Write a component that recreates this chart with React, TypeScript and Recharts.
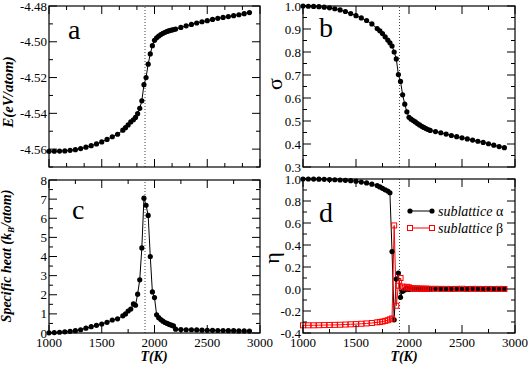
import React from "react"
import { LineChart, Line, XAxis, YAxis, ReferenceLine } from "recharts"

// temperature grid (K)
const temperature = [
  1000, 1050, 1100, 1150, 1200, 1250, 1300, 1350, 1400, 1450, 1500, 1550, 1600, 1650, 1700,
  1725, 1750, 1775, 1800, 1820, 1840, 1860, 1880, 1900, 1920, 1940, 1960, 1980, 2000, 2020,
  2040, 2060, 2080, 2100, 2120, 2140, 2160, 2180, 2200,
  2250, 2300, 2350, 2400, 2450, 2500, 2550, 2600, 2650, 2700, 2750, 2800, 2850, 2900,
]

const energy = [
  -4.5612, -4.5612, -4.5611, -4.561, -4.5607, -4.5603, -4.5597, -4.5589, -4.5581, -4.5571, -4.556, -4.5546, -4.5531, -4.5517, -4.5494,
  -4.548, -4.5465, -4.5448, -4.5436, -4.5423, -4.5402, -4.5372, -4.533, -4.524, -4.52, -4.5125, -4.5068, -4.5022, -4.4992, -4.4978,
  -4.4968, -4.496, -4.4953, -4.4947, -4.4942, -4.4938, -4.4935, -4.4932, -4.4929,
  -4.492, -4.4911, -4.4903, -4.4895, -4.4888, -4.4882, -4.4875, -4.4869, -4.4864, -4.4859, -4.4854, -4.4849, -4.4843, -4.4837,
]

const sigma = [
  1.0, 0.999, 0.998, 0.997, 0.995, 0.992, 0.988, 0.983, 0.976, 0.967, 0.958, 0.948, 0.937, 0.922, 0.902,
  0.892, 0.88, 0.866, 0.852, 0.84, 0.826, 0.8, 0.77, 0.702, 0.672, 0.614, 0.573, 0.54, 0.516, 0.508,
  0.502, 0.496, 0.489, 0.483, 0.477, 0.472, 0.467, 0.463, 0.459,
  0.454, 0.449, 0.443, 0.437, 0.432, 0.427, 0.422, 0.417, 0.412, 0.407, 0.401, 0.395, 0.389, 0.384,
]

const specificHeat = [
  0.01, 0.02, 0.04, 0.06, 0.09, 0.12, 0.17, 0.25, 0.33, 0.4, 0.47, 0.56, 0.68, 0.74, 0.9,
  1.0, 1.15, 1.25, 1.52, 1.45, 2.03, 2.78, 4.45, 7.05, 6.68, 6.15, 4.0, 2.15, 1.85, 0.95,
  0.8, 0.7, 0.62, 0.55, 0.5, 0.45, 0.41, 0.37, 0.2,
  0.18, 0.17, 0.17, 0.16, 0.15, 0.14, 0.14, 0.13, 0.13, 0.12, 0.12, 0.11, 0.11, 0.1,
]

const etaAlpha = [
  1.0, 1.0, 0.999, 0.998, 0.997, 0.995, 0.993, 0.991, 0.988, 0.985, 0.98, 0.972, 0.964, 0.953, 0.94,
  0.928, 0.915, 0.902, 0.89, 0.875, 0.34, -0.28, 0.09, 0.145, -0.076, -0.021, -0.008, 0.006, -0.004, 0.003,
  -0.002, 0.002, 0.0, 0.001, -0.001, 0.001, 0.0, 0.0, 0.001,
  0.002, 0.001, 0.0, 0.001, 0.002, 0.0, 0.001, 0.003, 0.001, 0.0, 0.001, 0.002, 0.0, 0.001,
]

const etaBeta = [
  -0.33, -0.33, -0.33, -0.329, -0.328, -0.327, -0.326, -0.325, -0.323, -0.321, -0.319, -0.316, -0.313, -0.309, -0.303,
  -0.3, -0.296, -0.29, -0.284, -0.276, -0.268, 0.578, -0.152, 0.03, 0.1, 0.022, 0.012, 0.02, 0.015, 0.008,
  0.006, 0.004, 0.006, 0.003, 0.004, 0.002, 0.003, 0.002, 0.001,
  0.002, 0.001, 0.001, 0.0, 0.001, 0.002, 0.0, 0.001, 0.001, 0.0, 0.001, 0.0, 0.001, 0.0,
]

const data = temperature.map((t, i) => ({
  t,
  e: energy[i],
  sigma: sigma[i],
  cv: specificHeat[i],
  alpha: etaAlpha[i],
  beta: etaBeta[i],
}))

// ticks
const xMajor = [1000, 1500, 2000, 2500, 3000]
const xMinorThirds = [1000 + 500 / 3, 1000 + 1000 / 3, 1500 + 500 / 3, 1500 + 1000 / 3, 2000 + 500 / 3, 2000 + 1000 / 3, 2500 + 500 / 3, 2500 + 1000 / 3]
const xMinorHalves = [1250, 1750, 2250, 2750]
const energyLabels = ["-4.56", "-4.54", "-4.52", "-4.50", "-4.48"]
const energyMinor = [-4.57, -4.55, -4.53, -4.51, -4.49]
const sigmaLabels = ["0.3", "0.4", "0.5", "0.6", "0.7", "0.8", "0.9", "1.0"]
const sigmaMinor = [0.35, 0.45, 0.55, 0.65, 0.75, 0.85, 0.95]
const heatLabels = ["0", "1", "2", "3", "4", "5", "6", "7", "8"]
const heatMinor = [0.5, 1.5, 2.5, 3.5, 4.5, 5.5, 6.5, 7.5]
const etaLabels = ["-0.4", "-0.2", "0.0", "0.2", "0.4", "0.6", "0.8", "1.0"]
const etaMinor = [-0.3, -0.1, 0.1, 0.3, 0.5, 0.7, 0.9]
const seriesNames = ["sublattice", "sublattice"]
const seriesSymbols = ["α", "β"]

const T_C = 1910
const serif = "'Liberation Serif', 'Times New Roman', serif"
const MAJ = 8
const MIN = 4

const xTick = (plotW: number, plotH: number, minor: number[], labels: boolean) => (props: any) => {
  const { x, y, payload } = props
  const isMinor = minor.some((m) => Math.abs(m - payload.value) < 1e-6)
  const len = isMinor ? MIN : MAJ
  return (
    <g>
      {payload.value === 1000 && (
        <rect x={x} y={y - plotH} width={plotW} height={plotH} fill="none" stroke="#000" strokeWidth={1.2} />
      )}
      <line x1={x} x2={x} y1={y} y2={y - len} stroke="#000" strokeWidth={1} />
      <line x1={x} x2={x} y1={y - plotH} y2={y - plotH + len} stroke="#000" strokeWidth={1} />
      {labels && !isMinor && (
        <text x={x} y={y + 14} textAnchor="middle" fontFamily={serif} fontSize={13} fill="#000">
          {payload.value}
        </text>
      )}
    </g>
  )
}

const yTick = (plotW: number, labels: string[]) => (props: any) => {
  const { x, y, payload } = props
  const label = labels.find((s) => Math.abs(Number(s) - payload.value) < 1e-9)
  const len = label ? MAJ : MIN
  return (
    <g>
      <line x1={x} x2={x + len} y1={y} y2={y} stroke="#000" strokeWidth={1} />
      <line x1={x + plotW - len} x2={x + plotW} y1={y} y2={y} stroke="#000" strokeWidth={1} />
      {label && (
        <text x={x - 2} y={y} dy="0.35em" textAnchor="end" fontFamily={serif} fontSize={13} fill="#000">
          {label}
        </text>
      )}
    </g>
  )
}

const squareDot = (p: any) => (
  <rect key={`sq-${p.index}`} x={p.cx - 2.5} y={p.cy - 2.5} width={5} height={5} fill="none" stroke="#ff0000" strokeWidth={1} />
)

const circleDot = { r: 2.6, fill: "#000", stroke: "#000", strokeWidth: 0 }

type PanelProps = {
  left: number
  top: number
  width: number
  height: number
  margin: { top: number; right: number; bottom: number; left: number }
  yDomain: [number, number]
  yLabels: string[]
  yMinor: number[]
  xMinor: number[]
  xLabels: boolean
  children: React.ReactNode
}

function Panel(p: PanelProps) {
  // axes take 1px each so that recharts still draws them
  const plotW = p.width - p.margin.left - p.margin.right - 1
  const plotH = p.height - p.margin.top - p.margin.bottom - 1
  const yTicks = [...p.yLabels.map(Number), ...p.yMinor].sort((a, b) => a - b)
  const xTicks = [...xMajor, ...p.xMinor].sort((a, b) => a - b)
  return (
    <div style={{ position: "absolute", left: p.left, top: p.top }}>
      <LineChart width={p.width} height={p.height} data={data} margin={p.margin} style={{ overflow: "visible" }}>
        <XAxis
          dataKey="t"
          type="number"
          domain={[1000, 3000]}
          ticks={xTicks}
          interval={0}
          height={1}
          tickSize={0}
          tickMargin={0}
          axisLine={false}
          tickLine={false}
          tick={xTick(plotW, plotH, p.xMinor, p.xLabels)}
        />
        <YAxis
          type="number"
          domain={p.yDomain}
          ticks={yTicks}
          interval={0}
          width={1}
          tickSize={0}
          tickMargin={0}
          axisLine={false}
          tickLine={false}
          tick={yTick(plotW, p.yLabels)}
        />
        <ReferenceLine x={T_C} stroke="#444" strokeDasharray="1 2" strokeWidth={1} />
        {p.children}
      </LineChart>
    </div>
  )
}

const letter = (text: string, left: number, top: number) => (
  <div style={{ position: "absolute", left, top, fontFamily: serif, fontSize: 28, lineHeight: "28px" }}>{text}</div>
)

const rotated = (content: React.ReactNode, cx: number, cy: number, style: React.CSSProperties) => (
  <div
    style={{
      position: "absolute",
      left: cx,
      top: cy,
      transform: "translate(-50%, -50%) rotate(-90deg)",
      whiteSpace: "nowrap",
      fontFamily: serif,
      lineHeight: 1,
      ...style,
    }}
  >
    {content}
  </div>
)

const centered = (content: React.ReactNode, cx: number, cy: number, style: React.CSSProperties) => (
  <div
    style={{
      position: "absolute",
      left: cx,
      top: cy,
      transform: "translate(-50%, -50%)",
      whiteSpace: "nowrap",
      fontFamily: serif,
      lineHeight: 1,
      ...style,
    }}
  >
    {content}
  </div>
)

export default function App() {
  return (
    <div style={{ position: "absolute", left: 0, top: 0, width: 529, height: 365, background: "#fff", overflow: "hidden" }}>
      <Panel
        left={0}
        top={0}
        width={270}
        height={175}
        margin={{ top: 6, right: 10, bottom: 7, left: 48 }}
        yDomain={[-4.57, -4.48]}
        yLabels={energyLabels}
        yMinor={energyMinor}
        xMinor={xMinorThirds}
        xLabels={false}
      >
        <Line dataKey="e" stroke="#000" strokeWidth={1} dot={circleDot} activeDot={false} isAnimationActive={false} />
      </Panel>
      <Panel
        left={262}
        top={0}
        width={267}
        height={175}
        margin={{ top: 6, right: 14, bottom: 7, left: 40 }}
        yDomain={[0.3, 1.0]}
        yLabels={sigmaLabels}
        yMinor={sigmaMinor}
        xMinor={xMinorHalves}
        xLabels={false}
      >
        <Line dataKey="sigma" stroke="#000" strokeWidth={1} dot={circleDot} activeDot={false} isAnimationActive={false} />
      </Panel>
      <Panel
        left={0}
        top={170}
        width={285}
        height={195}
        margin={{ top: 10, right: 25, bottom: 31, left: 48 }}
        yDomain={[0, 8]}
        yLabels={heatLabels}
        yMinor={heatMinor}
        xMinor={xMinorHalves}
        xLabels={true}
      >
        <Line dataKey="cv" stroke="#000" strokeWidth={1} dot={circleDot} activeDot={false} isAnimationActive={false} />
      </Panel>
      <Panel
        left={262}
        top={170}
        width={267}
        height={195}
        margin={{ top: 9, right: 14, bottom: 31, left: 40 }}
        yDomain={[-0.4, 1.0]}
        yLabels={etaLabels}
        yMinor={etaMinor}
        xMinor={xMinorHalves}
        xLabels={true}
      >
        <Line dataKey="alpha" stroke="#000" strokeWidth={1} dot={circleDot} activeDot={false} isAnimationActive={false} />
        <Line dataKey="beta" stroke="#ff0000" strokeWidth={1} dot={squareDot} activeDot={false} isAnimationActive={false} />
      </Panel>

      {letter("a", 68, 16)}
      {letter("b", 319, 14)}
      {letter("c", 72, 196)}
      {letter("d", 319, 199)}

      {rotated("E(eV/atom)", 8, 92, { fontSize: 15, fontWeight: "bold", fontStyle: "italic" })}
      {rotated("σ", 275, 84, { fontSize: 22 })}
      {rotated(
        <span>
          Specific heat (k<sub style={{ fontSize: 9 }}>B</sub>/atom)
        </span>,
        8,
        256,
        { fontSize: 14, fontWeight: "bold", fontStyle: "italic" }
      )}
      {rotated("η", 272, 258, { fontSize: 22 })}
      {centered("T(K)", 154, 357, { fontSize: 14, fontWeight: "bold", fontStyle: "italic" })}
      {centered("T(K)", 404, 357, { fontSize: 14, fontWeight: "bold", fontStyle: "italic" })}

      <svg style={{ position: "absolute", left: 400, top: 200 }} width={120} height={40}>
        <line x1={10} x2={32} y1={11} y2={11} stroke="#000" strokeWidth={1} />
        <circle cx={10} cy={11} r={2.6} fill="#000" />
        <circle cx={32} cy={11} r={2.6} fill="#000" />
        <text x={38} y={11} dy="0.35em" fontFamily={serif} fontSize={14}>
          <tspan fontStyle="italic">{seriesNames[0]}</tspan> {seriesSymbols[0]}
        </text>
        <line x1={10} x2={32} y1={28} y2={28} stroke="#ff0000" strokeWidth={1} />
        <rect x={7.5} y={25.5} width={5} height={5} fill="#fff" stroke="#ff0000" />
        <rect x={29.5} y={25.5} width={5} height={5} fill="#fff" stroke="#ff0000" />
        <text x={38} y={28} dy="0.35em" fontFamily={serif} fontSize={14}>
          <tspan fontStyle="italic">{seriesNames[1]}</tspan> {seriesSymbols[1]}
        </text>
      </svg>
    </div>
  )
}
